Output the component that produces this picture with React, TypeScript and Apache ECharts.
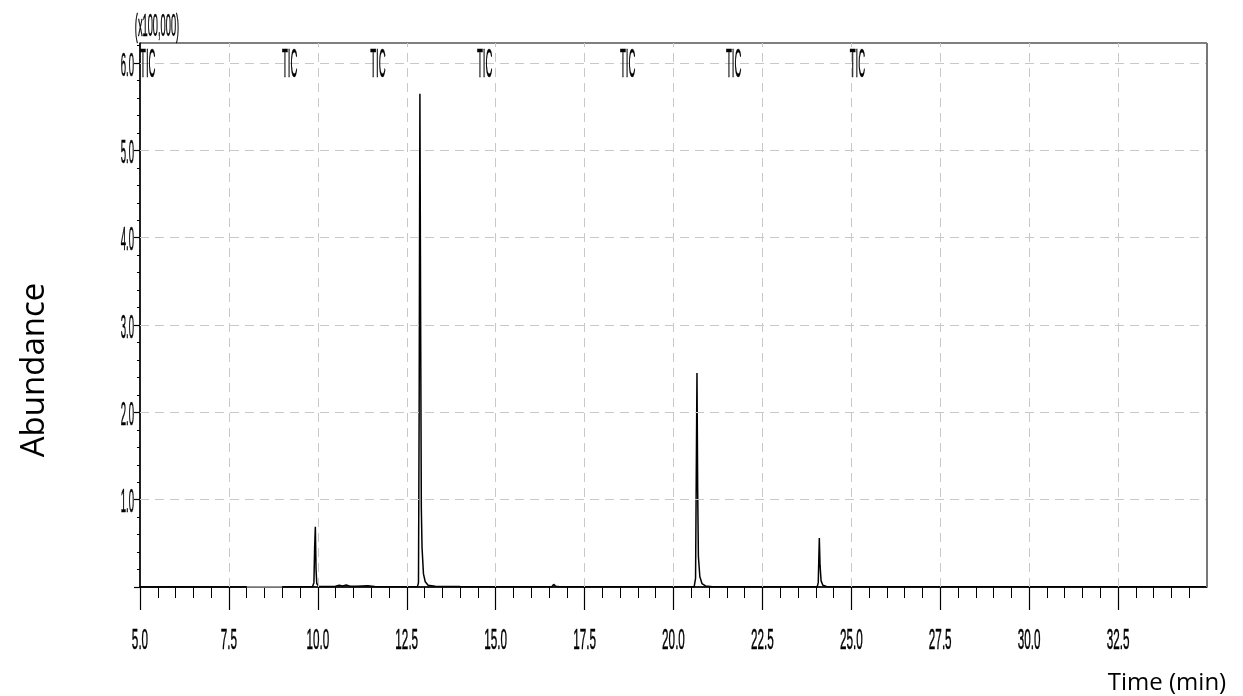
import { useEffect, useRef } from 'react';
import * as echarts from 'echarts';

// Axis ticks / labels
const xTickValues = [5.0, 7.5, 10.0, 12.5, 15.0, 17.5, 20.0, 22.5, 25.0, 27.5, 30.0, 32.5];
const yTickValues = [0, 1.0, 2.0, 3.0, 4.0, 5.0, 6.0];
const yLabelValues = [1.0, 2.0, 3.0, 4.0, 5.0, 6.0];
const yMinorTickValues = [
  0.2, 0.4, 0.6, 0.8, 1.2, 1.4, 1.6, 1.8, 2.2, 2.4, 2.6, 2.8, 3.2, 3.4, 3.6, 3.8,
  4.2, 4.4, 4.6, 4.8, 5.2, 5.4, 5.6, 5.8, 6.2,
];
const xGridValues = [7.5, 10.0, 12.5, 15.0, 17.5, 20.0, 22.5, 25.0, 27.5, 30.0, 32.5];
const yGridValues = [1.0, 2.0, 3.0, 4.0, 5.0, 6.0];

// "TIC" markers (retention time, placed on the 6.0 line)
const ticTimes = [5.22, 9.21, 11.69, 14.69, 18.71, 21.69, 25.17];
const ticLevel = 6.0;

// Chromatogram trace (time in min, abundance x100,000)
const traceBefore: [number, number][] = [
  [5.0, 0.0], [6.0, 0.002], [7.0, 0.001], [8.0, 0.0],
];
const traceGap: [number, number][] = [
  [8.0, 0.0], [9.0, 0.0],
];
const traceAfter: [number, number][] = [
  [9.0, 0.0], [9.5, 0.003], [9.85, 0.002], [9.89, 0.05], [9.91, 0.45], [9.93, 0.69],
  [9.95, 0.2], [9.97, 0.04], [10.02, 0.01], [10.2, 0.005], [10.5, 0.008], [10.6, 0.02],
  [10.7, 0.012], [10.8, 0.022], [10.9, 0.01], [11.1, 0.008], [11.4, 0.015], [11.6, 0.005],
  [12.0, 0.004], [12.5, 0.003], [12.8, 0.002], [12.83, 0.05], [12.85, 2.2], [12.87, 5.65],
  [12.89, 3.1], [12.91, 0.9], [12.93, 0.45], [12.97, 0.15], [13.02, 0.06], [13.1, 0.02],
  [13.3, 0.008], [14.0, 0.005], [15.0, 0.003], [16.0, 0.004], [16.58, 0.003], [16.63, 0.03],
  [16.68, 0.01], [16.8, 0.003], [18.0, 0.002], [19.5, 0.002], [20.58, 0.002], [20.62, 0.1],
  [20.66, 2.45], [20.68, 1.1], [20.7, 0.35], [20.74, 0.12], [20.8, 0.04], [20.9, 0.012],
  [21.1, 0.004], [22.5, 0.002], [24.04, 0.002], [24.07, 0.05], [24.1, 0.56], [24.12, 0.25],
  [24.15, 0.07], [24.2, 0.02], [24.3, 0.005], [26.0, 0.002], [30.0, 0.002], [35.0, 0.002],
];

const condensedFont = "'Liberation Sans', Arial, sans-serif";
const titleFont = "'Open Sans', 'Noto Sans', sans-serif";

export default function App() {
  const ref = useRef<HTMLDivElement>(null);

  useEffect(() => {
    document.body.style.margin = '0';
    document.body.style.overflow = 'hidden';
    if (!ref.current) return;
    const chart = echarts.init(ref.current, undefined, { renderer: 'svg' });

    const dash = { type: [9, 6] as any, color: '#c8c8c8', width: 1 };
    const condensedStyle = (text: string, fontSize: number, align: string) => ({
      text, fontSize, fontFamily: condensedFont, fill: '#000', stroke: '#000', lineWidth: 0.5,
      align, verticalAlign: 'middle',
    });

    const option: any = {
      animation: false,
      backgroundColor: '#ffffff',
      grid: {
        left: 140, right: 36, top: 43, bottom: 109,
        show: true, borderColor: '#000', borderWidth: 1, backgroundColor: 'transparent',
      },
      xAxis: [{
        type: 'value', min: 5, max: 35, interval: 2.5,
        axisLine: { show: true, onZero: false, lineStyle: { color: '#000', width: 1.5 } },
        axisTick: { show: true, customValues: xTickValues, length: 23, lineStyle: { color: '#000', width: 1.2 } },
        minorTick: { show: true, splitNumber: 5, length: 11, lineStyle: { color: '#000', width: 1 } },
        axisLabel: { show: false },
        splitLine: { show: false },
      }],
      yAxis: [{
        type: 'value', min: 0, max: 6.23,
        axisLine: { show: true, onZero: false, lineStyle: { color: '#000', width: 1.5 } },
        axisTick: { show: true, customValues: yTickValues, length: 6, lineStyle: { color: '#000', width: 1.2 } },
        axisLabel: { show: false },
        splitLine: { show: false },
      }, {
        type: 'value', min: 0, max: 6.23, position: 'left',
        axisLine: { show: false },
        axisTick: { show: true, customValues: yMinorTickValues, length: 3, lineStyle: { color: '#000', width: 1 } },
        axisLabel: { show: false },
        splitLine: { show: false },
      }],
      series: [
        {
          type: 'line', name: 'gap', data: traceGap, symbol: 'none', z: 1,
          lineStyle: { color: '#bbbbbb', width: 1.5 },
          markLine: {
            silent: true, symbol: ['none', 'none'], label: { show: false },
            lineStyle: dash,
            data: [
              ...xGridValues.map((v) => ({ xAxis: v })),
              ...yGridValues.map((v) => ({ yAxis: v })),
              { xAxis: 35, lineStyle: { type: 'solid', color: '#777', width: 2 } },
            ],
          },
        },
        {
          type: 'line', name: 'TIC-a', data: traceBefore, symbol: 'none', z: 3,
          lineStyle: { color: '#000', width: 1.5 },
        },
        {
          type: 'line', name: 'TIC-b', data: traceAfter, symbol: 'none', z: 3,
          lineStyle: { color: '#000', width: 1.5 },
        },
        {
          type: 'custom', name: 'xLabels', silent: true, z: 10,
          data: xTickValues.map((v) => [v, 0]),
          renderItem: (_p: any, api: any) => {
            const v = api.value(0);
            const pt = api.coord([v, api.value(1)]);
            return {
              type: 'text', x: pt[0], y: pt[1] + 51, scaleX: 0.39,
              style: condensedStyle(v.toFixed(1), 30, 'center'),
            };
          },
        },
        {
          type: 'custom', name: 'yLabels', silent: true, z: 10,
          data: yLabelValues.map((v) => [5, v]),
          renderItem: (_p: any, api: any) => {
            const v = api.value(1);
            const pt = api.coord([api.value(0), v]);
            return {
              type: 'text', x: pt[0] - 6, y: pt[1] + 1, scaleX: 0.29,
              style: condensedStyle(v.toFixed(1), 33, 'right'),
            };
          },
        },
        {
          type: 'custom', name: 'ticLabels', silent: true, z: 10,
          data: ticTimes.map((t) => [t, ticLevel]),
          renderItem: (_p: any, api: any) => {
            const pt = api.coord([api.value(0), api.value(1)]);
            return {
              type: 'text', x: pt[0], y: pt[1], scaleX: 0.24,
              style: condensedStyle('TIC', 40, 'center'),
            };
          },
        },
      ],
      graphic: [
        {
          type: 'text', x: 157, y: 25, scaleX: 0.29, silent: true,
          style: condensedStyle('(x100,000)', 32, 'center'),
        },
        {
          type: 'text', x: 31, y: 370, rotation: Math.PI / 2, silent: true,
          style: { text: 'Abundance', fontSize: 33, fontFamily: titleFont, fill: '#000', align: 'center', verticalAlign: 'middle' },
        },
        {
          type: 'text', x: 1167, y: 680, silent: true,
          style: { text: 'Time (min)', fontSize: 24, fontFamily: titleFont, fill: '#000', align: 'center', verticalAlign: 'middle' },
        },
      ],
    };

    chart.setOption(option);
    return () => chart.dispose();
  }, []);

  return (
    <div
      ref={ref}
      style={{ position: 'fixed', left: 0, top: 0, width: 1243, height: 696, willChange: 'transform', background: 'transparent' }}
    />
  );
}
